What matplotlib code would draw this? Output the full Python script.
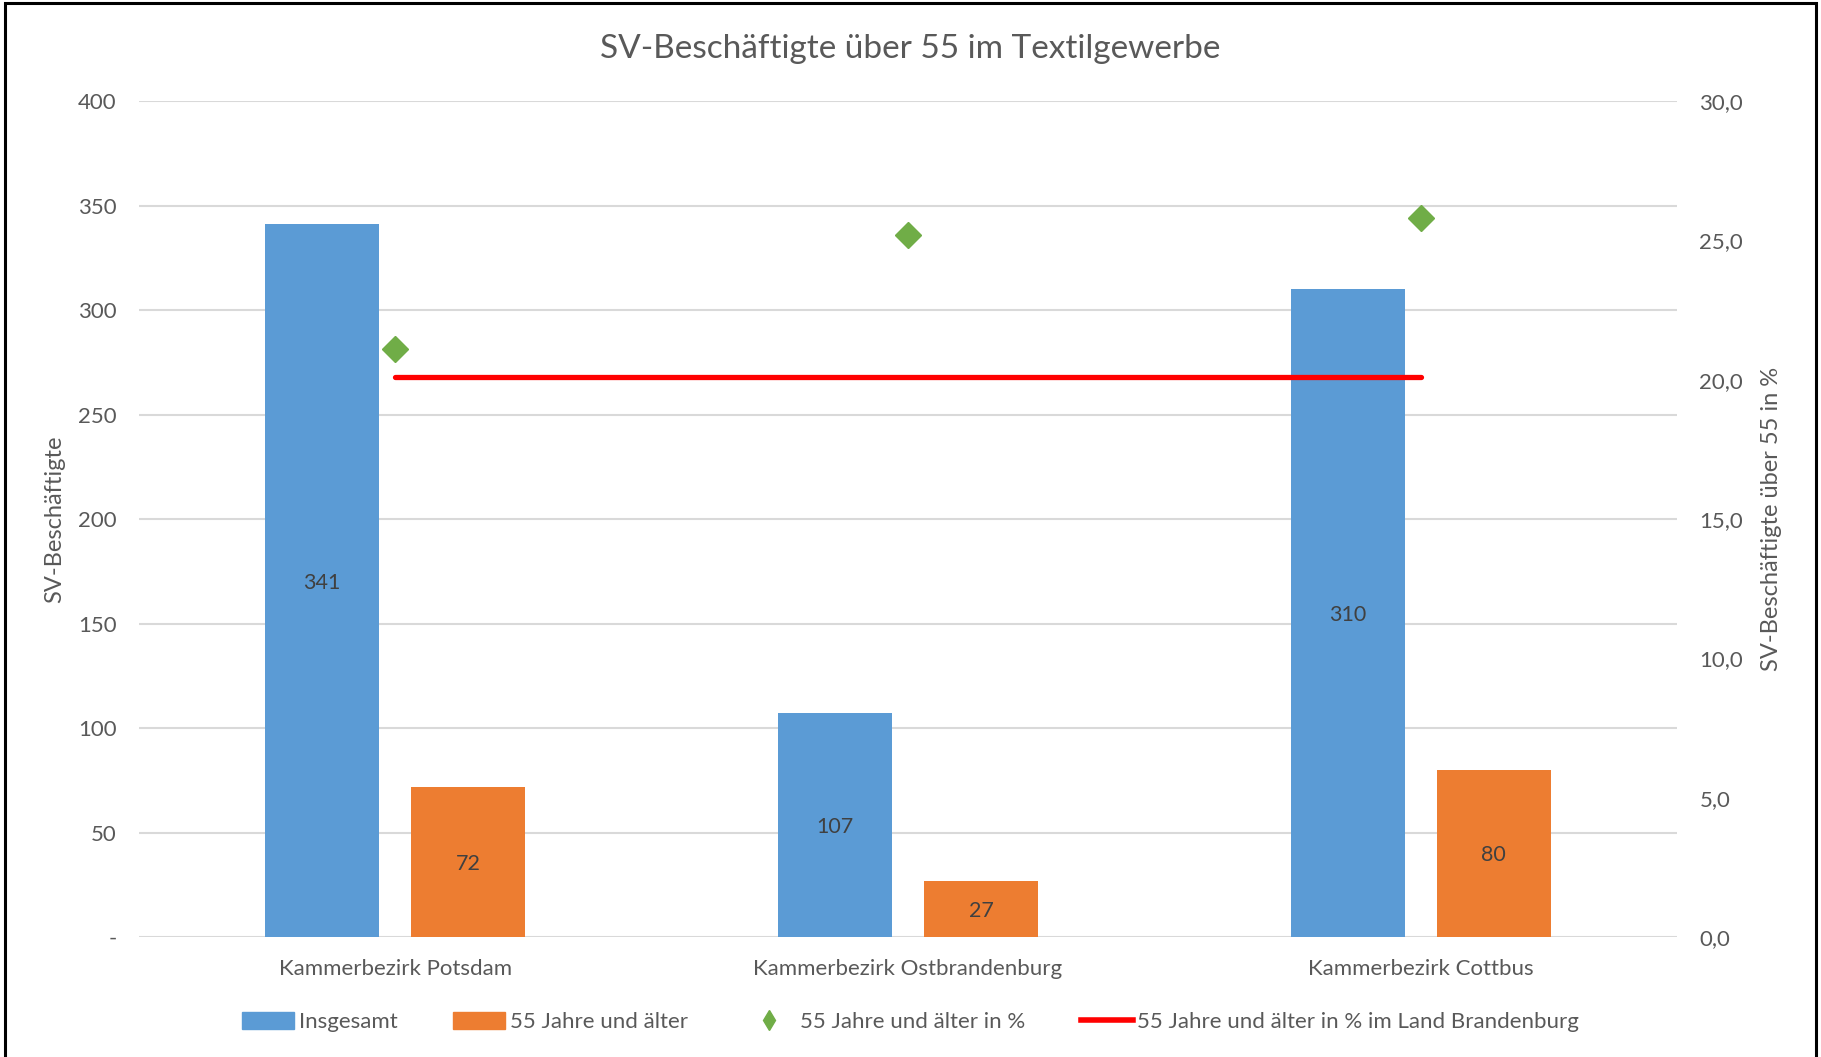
import matplotlib.pyplot as plt
from matplotlib.patches import Patch, Rectangle
from matplotlib.lines import Line2D
import numpy as np

# data
regions = ["Kammerbezirk Potsdam", "Kammerbezirk Ostbrandenburg", "Kammerbezirk Cottbus"]
total = [341, 107, 310]
over55 = [72, 27, 80]
share_pct = [21.1, 25.2, 25.8]
land_pct = [20.1, 20.1, 20.1]
left_ticks = [0, 50, 100, 150, 200, 250, 300, 350, 400]
right_ticks = [0, 5, 10, 15, 20, 25, 30]

BLUE = '#5b9bd5'
ORANGE = '#ed7d31'
GREEN = '#70ad47'
RED = '#ff0000'
TXT = '#595959'
GRID = '#d9d9d9'

plt.rcParams['font.family'] = ['Lato', 'DejaVu Sans']

fig = plt.figure(figsize=(18.21, 10.57), dpi=100)
ax = fig.add_axes([0.0763, 0.1135, 0.8447, 0.7909])
ax2 = ax.twinx()

x = np.arange(len(regions))
w = 0.222
off = 0.1425
b1 = ax.bar(x - off, total, w, color=BLUE, zorder=2)
b2 = ax.bar(x + off, over55, w, color=ORANGE, zorder=2)
for bars, vals in ((b1, total), (b2, over55)):
    for r, v in zip(bars, vals):
        ax.text(r.get_x() + r.get_width() / 2, v / 2, str(v), ha='center', va='center_baseline',
                fontsize=15.5, color='#404040', zorder=3)

ax2.plot(x, share_pct, linestyle='none', marker='D', markersize=13, color=GREEN, zorder=4)
ax2.plot(x, land_pct, color=RED, linewidth=3.8, solid_capstyle='round', zorder=3)

ax.set_xlim(-0.5, 2.5)
ax.set_ylim(0, 400)
ax2.set_ylim(0, 30)
ax.set_yticks(left_ticks)
ax.set_yticklabels(['-' if t == 0 else str(t) for t in left_ticks])
ax2.set_yticks(right_ticks)
ax2.set_yticklabels([f"{t:.1f}".replace('.', ',') for t in right_ticks])
ax.set_xticks(x)
ax.set_xticklabels(regions)

ax.grid(axis='y', color=GRID, linewidth=1.5, zorder=0)
ax.set_axisbelow(True)
for a in (ax, ax2):
    for s in a.spines.values():
        s.set_visible(False)
    a.tick_params(length=0, labelsize=16, labelcolor=TXT)
ax.tick_params(axis='y', pad=16)
ax2.tick_params(axis='y', pad=16)
ax.tick_params(axis='x', pad=16, labelsize=16)

ax.set_ylabel("SV-Beschäftigte", fontsize=17, color=TXT, labelpad=9)
ax2.set_ylabel("SV-Beschäftigte über 55 in %", fontsize=17, color=TXT, labelpad=13)

fig.text(0.5, 0.954, "SV-Beschäftigte über 55 im Textilgewerbe", ha='center', va='center',
         fontsize=24, color=TXT)

handles = [
    Patch(color=BLUE),
    Patch(color=ORANGE),
    Line2D([], [], linestyle='none', marker='d', markersize=10, color=GREEN),
    Line2D([], [], color=RED, linewidth=4),
]
labels = ["Insgesamt", "55 Jahre und älter", "55 Jahre und älter in %",
          "55 Jahre und älter in % im Land Brandenburg"]
leg = fig.legend(handles, labels, loc='center', bbox_to_anchor=(0.5, 0.033), ncol=4,
                 frameon=False, fontsize=16, handlelength=2.35, handleheight=0.75,
                 handletextpad=0.2, columnspacing=2.5)
for t in leg.get_texts():
    t.set_color(TXT)

fig.patches.append(Rectangle((0.0025, -0.01), 0.9945, 1.0075, transform=fig.transFigure,
                             fill=False, edgecolor='black', linewidth=2.2))

fig.savefig("out.png", dpi=100)
